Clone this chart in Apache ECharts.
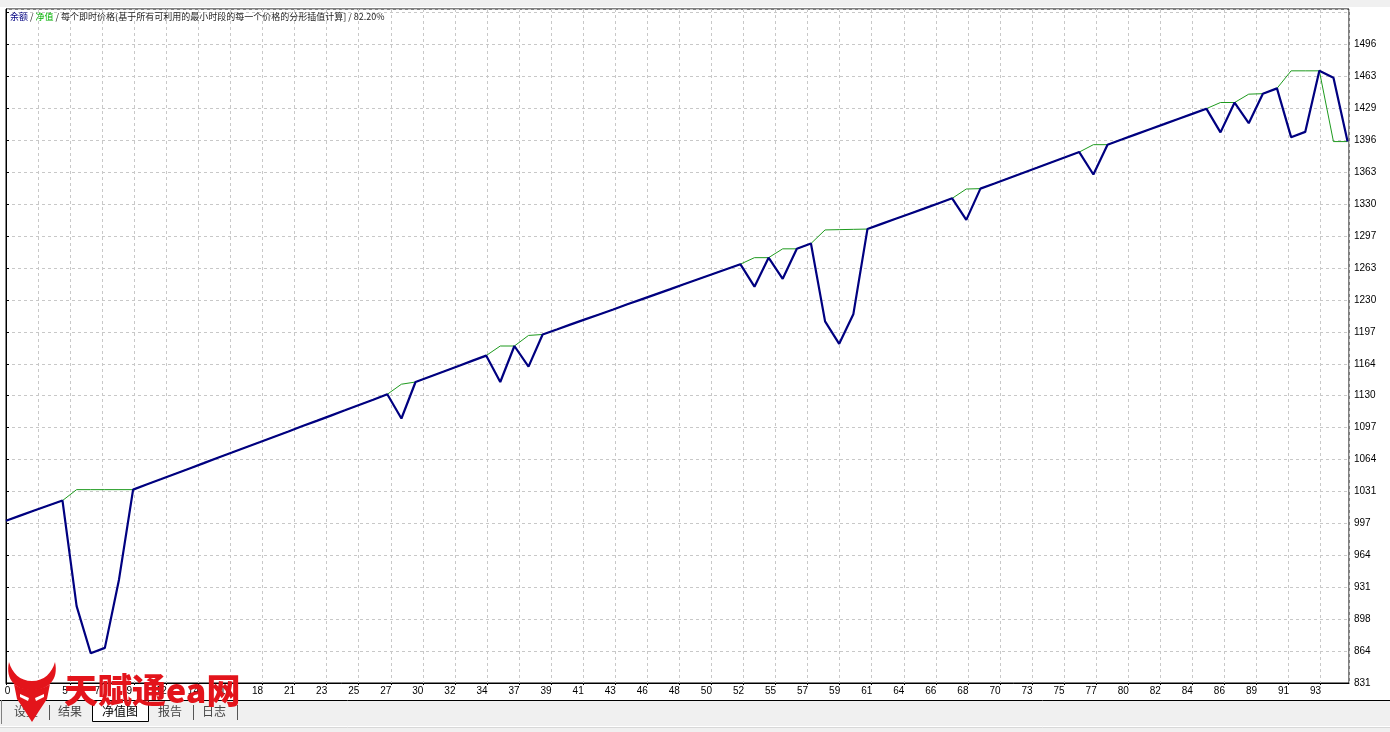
<!DOCTYPE html>
<html>
<head>
<meta charset="utf-8">
<script src="https://cdn.jsdelivr.net/npm/echarts/dist/echarts.min.js"></script>
<style>
html,body{margin:0;padding:0;background:#fff;}
#c{width:1390px;height:732px;}
</style>
</head>
<body>
<div id="c"></div>
<script>
// ---- data ----
const balance = [1000, 1005.3, 1010.6, 1015.8, 1021, 911, 862, 867.6, 938.6, 1032.4,
  1038, 1043.4, 1049, 1054.5, 1060, 1065.6, 1071, 1076.6, 1082, 1087.5,
  1093, 1098.6, 1104, 1109.5, 1115, 1120.6, 1126, 1131.7, 1106.5, 1144.5,
  1150, 1155.5, 1161, 1166.5, 1172, 1144.5, 1182, 1160.5, 1194, 1199.2,
  1204.5, 1209.7, 1214.9, 1220.1, 1225.4, 1230.6, 1235.8, 1241, 1246.3, 1251.5,
  1256.7, 1262, 1267.2, 1243.8, 1274, 1252, 1283.2, 1288.7, 1207.7, 1184.3,
  1215, 1303.8, 1309.2, 1314.5, 1319.8, 1325.1, 1330.5, 1335.8, 1313.4, 1345.9,
  1351.3, 1356.8, 1362.2, 1367.6, 1373.1, 1378.5, 1384, 1360.6, 1391.7, 1397,
  1402.4, 1407.8, 1413.1, 1418.5, 1423.8, 1429.2, 1404.5, 1435.6, 1414.1, 1444.8,
  1450.3, 1399.5, 1405, 1468.6, 1461.3, 1394.9];
const equity = [1000, 1005.3, 1010.6, 1015.8, 1021, 1032.4, 1032.4, 1032.4, 1032.4, 1032.4,
  1038, 1043.4, 1049, 1054.5, 1060, 1065.6, 1071, 1076.6, 1082, 1087.5,
  1093, 1098.6, 1104, 1109.5, 1115, 1120.6, 1126, 1131.7, 1142.2, 1144.5,
  1150, 1155.5, 1161, 1166.5, 1172, 1182, 1182, 1193, 1194, 1199.2,
  1204.5, 1209.7, 1214.9, 1220.1, 1225.4, 1230.6, 1235.8, 1241, 1246.3, 1251.5,
  1256.7, 1262, 1267.2, 1274, 1274, 1283.2, 1283.2, 1288.7, 1302.9, 1303.2,
  1303.5, 1303.8, 1309.2, 1314.5, 1319.8, 1325.1, 1330.5, 1335.8, 1345.5, 1345.9,
  1351.3, 1356.8, 1362.2, 1367.6, 1373.1, 1378.5, 1384, 1391.7, 1391.7, 1397,
  1402.4, 1407.8, 1413.1, 1418.5, 1423.8, 1429.2, 1435.6, 1435.6, 1444.3, 1444.8,
  1450.3, 1468.6, 1468.6, 1468.6, 1394.9, 1394.9];
const xTickLabels = ['0','2','5','7','9','12','14','16','18','21','23','25','27','30','32','34','37','39','41','43','46','48','50','52','55','57','59','61','64','66','68','70','73','75','77','80','82','84','86','89','91','93'];
const yTickLabels = ['831','864','898','931','964','997','1031','1064','1097','1130','1164','1197','1230','1263','1297','1330','1363','1396','1429','1463','1496'];
const tabs = ['设置','结果','净值图','报告','日志'];
const titleSeries = ['余额','净值'];
const titleRest = '每个即时价格(基于所有可利用的最小时段的每一个价格的分形插值计算] / 82.20%';

// ---- axis settings ----
const X_STEP = 2.2705, X_MAX = 95.1;
const Y_MIN = 831, Y_STEP = 33.25, Y_MAX = 1533;
const numFont = "'Liberation Sans',Arial,sans-serif";
const cjkFont = "'Noto Sans CJK SC','Noto Sans',sans-serif";

const balData = balance.map((v, i) => [i, v]);
const eqData = equity.map((v, i) => [i, v]);

// logo shapes (decoration)
echarts.graphic.registerShape('logoHorns', echarts.graphic.extendPath(
  'M9,662 C5,680 16,690 32,690 C48,690 59,680 55,662 C52,673 44,681 32,681 C20,681 12,673 9,662 Z', {}));
echarts.graphic.registerShape('logoFace', echarts.graphic.extendPath(
  'M14,684 C22,691 42,691 50,684 L47,699 L39,711 L32,722 L25,711 L17,699 Z', {}));
echarts.graphic.registerShape('logoEyes', echarts.graphic.extendPath(
  'M20,694 L29,698 L28,701 L20,697 Z M44,694 L35,698 L36,701 L44,697 Z', {}));

const chart = echarts.init(document.getElementById('c'), null, {renderer: 'canvas'});

const tabCenters = [26, 70, 120, 170, 214];
const graphic = [
  {type:'rect', shape:{x:0,y:0,width:1390,height:7}, style:{fill:'#f0f0f0'}, z:0},
  {type:'rect', shape:{x:0,y:700,width:1390,height:32}, style:{fill:'#f0f0f0'}, z:0},
  {type:'line', shape:{x1:0,y1:700.5,x2:1390,y2:700.5}, style:{stroke:'#000',lineWidth:1}, z:5},
  {type:'line', shape:{x1:0,y1:726.5,x2:1390,y2:726.5}, style:{stroke:'#ffffff',lineWidth:1}, z:5},
  {type:'line', shape:{x1:0,y1:727.5,x2:1390,y2:727.5}, style:{stroke:'#d8d8d8',lineWidth:1}, z:5},
  {type:'line', shape:{x1:1.5,y1:700,x2:1.5,y2:724}, style:{stroke:'#808080',lineWidth:1}, z:5},
  {type:'rect', shape:{x:92.5,y:700.5,width:56,height:21}, style:{fill:'#fff',stroke:'#000',lineWidth:1}, z:6},
  {type:'line', shape:{x1:49.5,y1:705,x2:49.5,y2:720}, style:{stroke:'#555',lineWidth:1}, z:6},
  {type:'line', shape:{x1:193.5,y1:705,x2:193.5,y2:720}, style:{stroke:'#555',lineWidth:1}, z:6},
  {type:'line', shape:{x1:237.5,y1:705,x2:237.5,y2:720}, style:{stroke:'#555',lineWidth:1}, z:6},
  {type:'text', x:10, y:17, z:20, style:{
    text:'{a|' + titleSeries[0] + '} / {b|' + titleSeries[1] + '} / ' + titleRest,
    fill:'#222', font:"9px " + cjkFont, textVerticalAlign:'middle',
    rich:{a:{fill:'#000080', fontSize:9, fontFamily:cjkFont}, b:{fill:'#00b000', fontSize:9, fontFamily:cjkFont}}
  }}
];
tabs.forEach((t, i) => {
  graphic.push({type:'text', x:tabCenters[i], y:711, z:7, style:{
    text:t, fill: i === 2 ? '#000' : '#444', font:'12px ' + cjkFont, textAlign:'center', textVerticalAlign:'middle'}});
});
graphic.push(
  {type:'logoHorns', z:30, style:{fill:'#e3141b'}},
  {type:'logoFace', z:30, style:{fill:'#e3141b'}},
  {type:'logoEyes', z:31, style:{fill:'#ffffff'}},
  {type:'text', x:64, y:690, z:30, style:{text:'天赋通ea网', fill:'#e3141b', font:"900 34px 'Noto Sans CJK SC',serif", textVerticalAlign:'middle'}}
);

function nearIdx(v, base, step, n) {
  const k = (v - base) / step;
  const r = Math.round(k);
  if (Math.abs(k - r) > 0.02 || r < 0 || r >= n) return -1;
  return r;
}

chart.setOption({
  animation: false,
  backgroundColor: '#ffffff',
  grid: {left: 6, right: 41, top: 9, bottom: 49, show: true, borderColor: '#000', borderWidth: 1, backgroundColor: '#fff'},
  xAxis: {
    type: 'value', min: 0, max: X_MAX, interval: X_STEP,
    axisLine: {show: true, onZero: false, lineStyle: {color: '#000', width: 1}},
    axisTick: {show: true, length: 2, lineStyle: {color: '#000'}},
    splitLine: {show: true, lineStyle: {color: '#c8c8c8', type: [3, 3], width: 1}},
    axisLabel: {
      margin: 3, color: '#000', fontSize: 10, fontFamily: numFont,
      showMaxLabel: false,
      formatter: function (v) {
        const r = nearIdx(v, 0, X_STEP, xTickLabels.length);
        if (r < 0) return '';
        return r === 0 ? '{z|' + xTickLabels[r] + '}' : '{n|' + xTickLabels[r] + '}';
      },
      rich: {
        z: {padding: [0, 0, 0, 3], fontSize: 10, fontFamily: numFont, color: '#000'},
        n: {padding: [0, 10, 0, 0], fontSize: 10, fontFamily: numFont, color: '#000'}
      }
    }
  },
  yAxis: {
    type: 'value', position: 'right', min: Y_MIN, max: Y_MAX, interval: Y_STEP,
    axisLine: {show: true, lineStyle: {color: '#000', width: 1}},
    axisTick: {show: true, length: 3, lineStyle: {color: '#000'}},
    splitLine: {show: true, lineStyle: {color: '#c8c8c8', type: [3, 3], width: 1}},
    axisLabel: {
      margin: 5, color: '#000', fontSize: 10, fontFamily: numFont,
      showMaxLabel: false,
      formatter: function (v) {
        const r = nearIdx(v, Y_MIN, Y_STEP, yTickLabels.length);
        return r < 0 ? '' : yTickLabels[r];
      }
    }
  },
  series: [
    {name: titleSeries[1], type: 'line', data: eqData, symbol: 'none', z: 2,
     lineStyle: {color: '#1e9a1e', width: 1}},
    {name: titleSeries[0], type: 'line', data: balData, symbol: 'none', z: 3,
     lineStyle: {color: '#000080', width: 2.2}}
  ],
  graphic: graphic
});
</script>
</body>
</html>
